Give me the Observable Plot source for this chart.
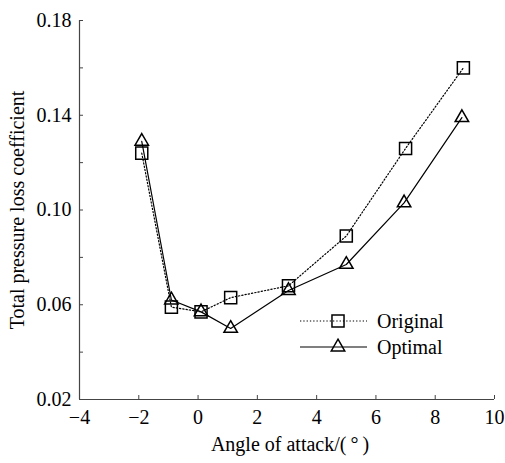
<!DOCTYPE html>
<html>
<head>
<meta charset="utf-8">
<script src="https://cdn.jsdelivr.net/npm/d3@7"></script>
<script src="https://cdn.jsdelivr.net/npm/@observablehq/plot@0.6"></script>
<style>
  html, body { margin: 0; padding: 0; background: #fff; }
  #chart { position: relative; width: 505px; height: 463px; }
  #legend { position: absolute; left: 0; top: 0; pointer-events: none; }
</style>
</head>
<body>
<div id="chart"></div>
<script>
// ---- data ----
const originalX = [-1.9, -0.9, 0.1, 1.1, 3.05, 5.0, 7.0, 8.95];
const originalY = [0.124, 0.059, 0.057, 0.063, 0.068, 0.089, 0.126, 0.160];
const optimalX  = [-1.9, -0.9, 0.1, 1.1, 3.05, 5.0, 6.95, 8.9];
const optimalY  = [0.129, 0.062, 0.057, 0.050, 0.066, 0.077, 0.103, 0.139];
const seriesNames = ["Original", "Optimal"];
const xTicks = [-4, -2, 0, 2, 4, 6, 8, 10];
const yTickLabels = [0.02, 0.06, 0.10, 0.14, 0.18];
const yTickMarks = [0.02, 0.04, 0.06, 0.08, 0.10, 0.12, 0.14, 0.16, 0.18];
const xLabel = "Angle of attack/(\u2009\u00b0\u2009)";
const yLabel = "Total pressure loss coefficient";

const original = originalX.map((x, i) => ({x, y: originalY[i]}));
const optimal = optimalX.map((x, i) => ({x, y: optimalY[i]}));

const font = "'Liberation Serif', 'Times New Roman', serif";
const axisColor = "#444";

const plot = Plot.plot({
  width: 505,
  height: 463,
  marginLeft: 79,
  marginRight: 11,
  marginTop: 20,
  marginBottom: 64,
  x: {domain: [xTicks[0], xTicks[xTicks.length - 1]]},
  y: {domain: [yTickMarks[0], yTickMarks[yTickMarks.length - 1]]},
  style: {fontFamily: font, fontSize: "20px", color: "#000", background: "#fff", overflow: "visible"},
  marks: [
    Plot.axisX({ticks: xTicks, tickSize: 0, tickPadding: 10, tickFormat: d3.format("d"), label: null, fill: "#000", fontSize: 20}),
    Plot.axisX({ticks: xTicks, tickSize: 4, dy: -4, text: null, label: null, stroke: axisColor}),
    Plot.axisY({ticks: yTickLabels, tickSize: 0, tickPadding: 8, tickFormat: d3.format(".2f"), label: null, fill: "#000", fontSize: 20}),
    Plot.axisY({ticks: yTickMarks, tickSize: 4, dx: 4, text: null, label: null, stroke: axisColor}),
    Plot.ruleX([xTicks[0]], {stroke: axisColor, strokeWidth: 1.2}),
    Plot.ruleY([yTickMarks[0]], {stroke: axisColor, strokeWidth: 1.2}),
    Plot.line(original, {x: "x", y: "y", stroke: "#000", strokeWidth: 1.2, strokeDasharray: "1.3,2"}),
    Plot.line(optimal, {x: "x", y: "y", stroke: "#000", strokeWidth: 1.2}),
    Plot.dot(original, {x: "x", y: "y", symbol: "square", r: 6.8, stroke: "#000", strokeWidth: 1.5, fill: "none"}),
    Plot.dot(optimal, {x: "x", y: "y", symbol: "triangle", r: 5, stroke: "#000", strokeWidth: 1.5, fill: "none"}),
    Plot.text([xLabel], {text: d => d, frameAnchor: "bottom", dy: 51, dx: 3, textAnchor: "middle", fontSize: 20, fill: "#000"}),
    Plot.text([yLabel], {text: d => d, frameAnchor: "left", rotate: -90, dx: -62, textAnchor: "middle", fontSize: 20, fill: "#000"})
  ]
});

const chart = document.getElementById("chart");
chart.appendChild(plot);

// ---- legend (overlay) ----
const legend = d3.select(chart).append("svg")
  .attr("id", "legend")
  .attr("width", 505).attr("height", 463);
const legendItems = [
  {name: seriesNames[0], dash: "1.3,2", symbol: d3.symbolSquare, size: Math.PI * 6.8 * 6.8, y: 321},
  {name: seriesNames[1], dash: null, symbol: d3.symbolTriangle, size: Math.PI * 5 * 5, y: 347}
];
const g = legend.selectAll("g").data(legendItems).join("g")
  .attr("transform", d => `translate(0,${d.y})`);
g.append("line")
  .attr("x1", 300).attr("x2", 367).attr("y1", 0).attr("y2", 0)
  .attr("stroke", "#000").attr("stroke-width", 1.2)
  .attr("stroke-dasharray", d => d.dash);
g.append("path")
  .attr("transform", "translate(338,0)")
  .attr("d", d => d3.symbol(d.symbol, d.size)())
  .attr("fill", "none").attr("stroke", "#000").attr("stroke-width", 1.5);
g.append("text")
  .attr("x", 377).attr("y", 0).attr("dy", "0.35em")
  .attr("font-family", font).attr("font-size", 20)
  .attr("fill", "#000")
  .text(d => d.name);
</script>
</body>
</html>
